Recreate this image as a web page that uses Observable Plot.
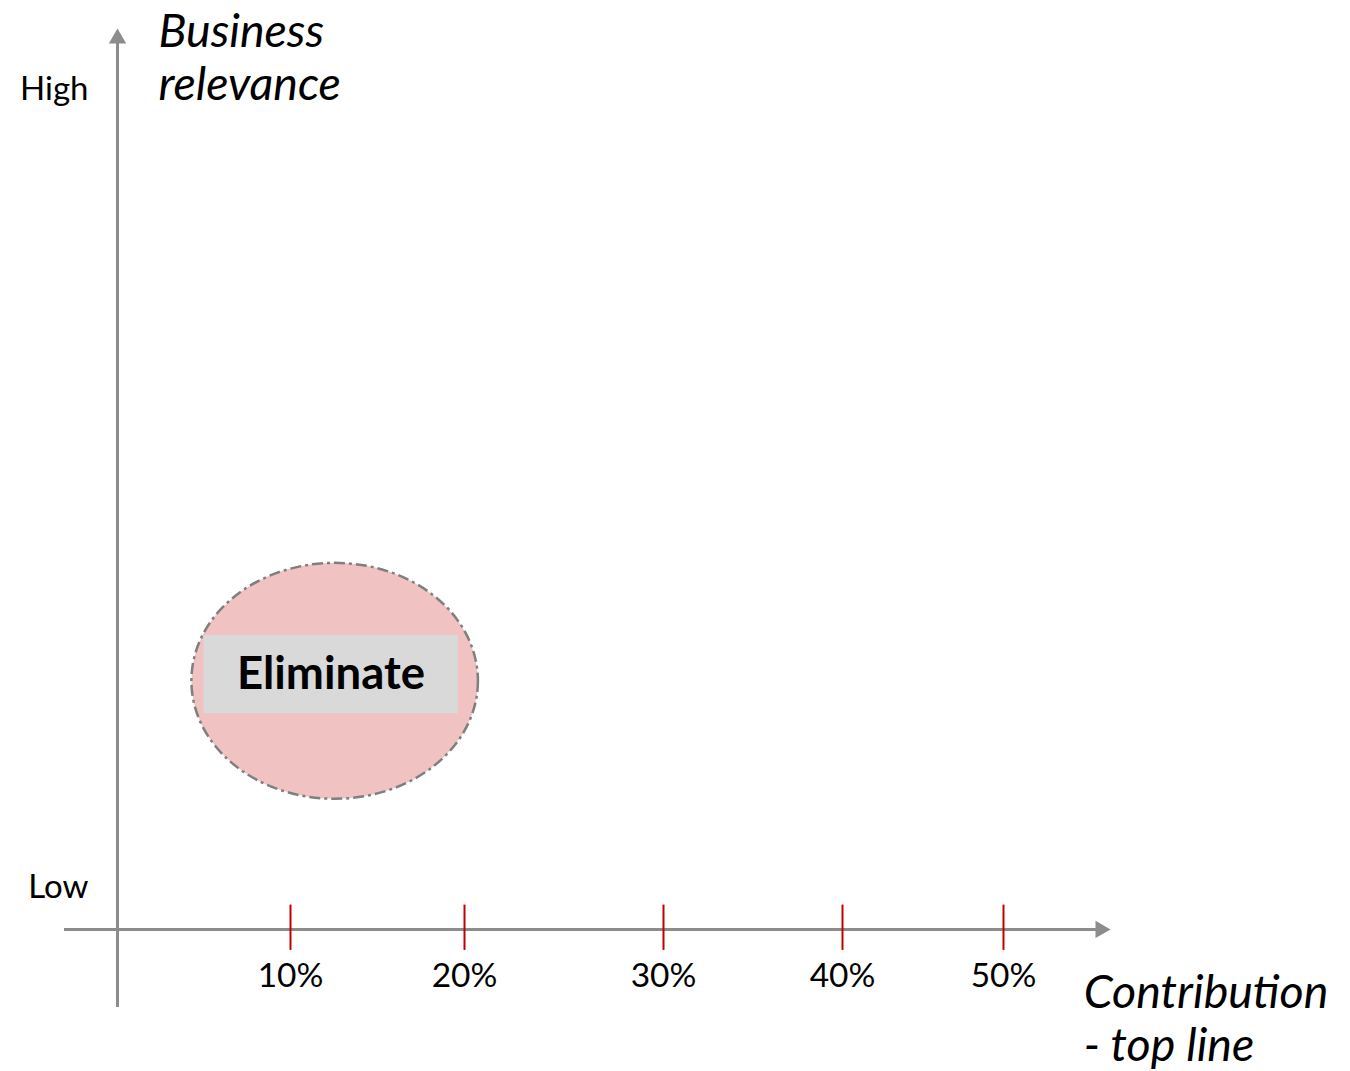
<!DOCTYPE html>
<html><head><meta charset="utf-8">
<script src="https://cdn.jsdelivr.net/npm/d3@7"></script>
<script src="https://cdn.jsdelivr.net/npm/@observablehq/plot@0.6"></script>
<style>body{margin:0;background:#fff;} svg{overflow:visible;}</style>
</head><body><div id="chart"></div>
<script>
// ---- data ----
const tickValues = [10, 20, 30, 40, 50];
const tickLabels = ["10%", "20%", "30%", "40%", "50%"];
const levelNames = ["Low", "High"];
const levelValues = [5, 100];
const xTitle = "Contribution\n- top line";
const yTitle = "Business\nrelevance";
const zoneName = "Eliminate";
const zoneX = [4.3, 20.7];     // ellipse extent in contribution units
const zoneY = [15.5, 43.6];    // ellipse extent in relevance units
const boxX = [5.0, 19.65];
const boxY = [25.7, 35.0];

const ticks = tickValues.map((v, i) => ({value: v, label: tickLabels[i]}));
const levels = levelNames.map((n, i) => ({name: n, value: levelValues[i]}));

const grey = "#8c8c8c";
const font = "Lato, 'Open Sans', sans-serif";

const plot = Plot.plot({
  width: 1350,
  height: 1071,
  margin: 0,
  style: {fontFamily: font, background: "#fff", overflow: "visible"},
  x: {type: "linear", domain: [-3, 0, 10, 20, 30, 40, 50, 56], range: [64, 117, 290, 464, 663, 842, 1003, 1110], axis: null},
  y: {type: "linear", domain: [-9.3, 107.3], range: [1007, 28], axis: null},
  marks: [
    Plot.rect([0], {x1: boxX[0], x2: boxX[1], y1: boxY[0], y2: boxY[1], fill: "#d9d9d9"}),
    Plot.text([zoneName], {x: (boxX[0] + boxX[1]) / 2, y: (boxY[0] + boxY[1]) / 2, text: d => d, fontSize: 45.5, fontWeight: "bold", fill: "#000", fontFamily: font}),
    Plot.ruleX([0], {x: 0, y1: -9.3, y2: 106, stroke: grey, strokeWidth: 3}),
    Plot.ruleY([0], {y: 0, x1: -3, x2: 55.4, stroke: grey, strokeWidth: 3}),
    Plot.dot([0], {x: 0, y: 106.1, symbol: "triangle", r: 6.43, fill: grey, stroke: "none"}),
    Plot.dot([0], {x: 55.44, y: 0, symbol: "triangle", r: 6.43, rotate: 90, fill: grey, stroke: "none"}),
    Plot.ruleX(ticks, {x: "value", y1: -2.5, y2: 2.9, stroke: "#c00000", strokeWidth: 2}),
    Plot.text(ticks, {x: "value", y: 0, dy: 47, text: "label", fontSize: 33.5, fill: "#000", fontFamily: font}),
    Plot.text(levels, {x: 0, y: "value", dx: -29, text: "name", textAnchor: "end", fontSize: 33, fill: "#000", fontFamily: font}),
    Plot.text([yTitle], {x: 2.37, y: 103.98, text: d => d, textAnchor: "start", lineHeight: 1.15, fontSize: 46.5, fontStyle: "italic", fill: "#000", fontFamily: font}),
    Plot.text([xTitle], {x: 54.5, y: -10.48, text: d => d, textAnchor: "start", lineHeight: 1.15, fontSize: 46.5, fontStyle: "italic", fill: "#000", fontFamily: font})
  ]
});

// ellipse drawn through the plot's own scales
const sx = plot.scale("x"), sy = plot.scale("y");
const ex1 = sx.apply(zoneX[0]), ex2 = sx.apply(zoneX[1]);
const ey1 = sy.apply(zoneY[0]), ey2 = sy.apply(zoneY[1]);
const svg = d3.select(plot);
svg.insert("ellipse", ":scope > g[aria-label=rect]")
  .attr("cx", (ex1 + ex2) / 2)
  .attr("cy", (ey1 + ey2) / 2)
  .attr("rx", Math.abs(ex2 - ex1) / 2)
  .attr("ry", Math.abs(ey2 - ey1) / 2)
  .attr("fill", "#f0c2c2")
  .attr("stroke", "#7f7f7f")
  .attr("stroke-width", 2.5)
  .attr("stroke-dasharray", "11,4,3,4");

document.getElementById("chart").appendChild(plot);
</script>
</body></html>
